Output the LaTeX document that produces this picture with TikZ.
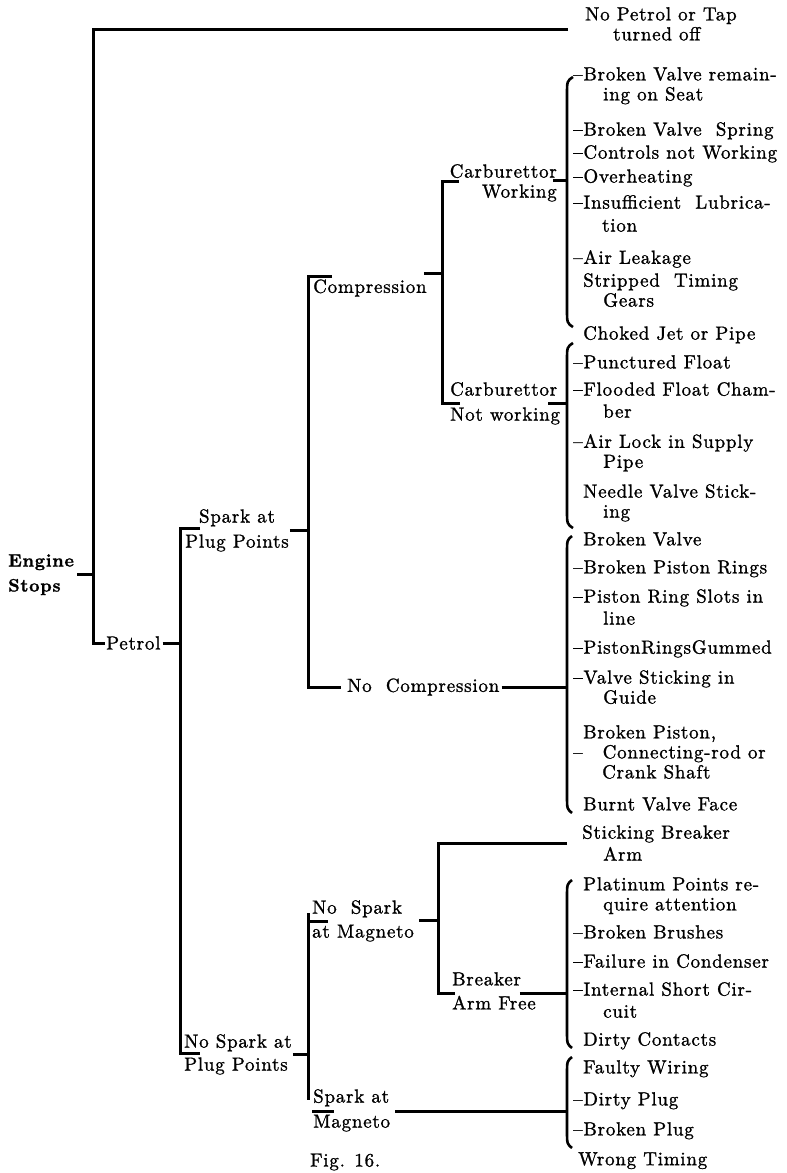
\documentclass[tikz,border=0pt]{standalone}
\usepackage{fontspec}
\setmainfont{lmroman10-regular.otf}[BoldFont=lmroman10-bold.otf, LetterSpace=4, FakeBold=1.2]
\tikzset{
  stem/.style={line width=3pt},
  curly/.style={line width=2.6pt},
  branch/.style={anchor=north west, inner sep=0pt, align=left},
  cause/.style={anchor=north west, inner sep=0pt, align=left},
}
\begin{document}
\begin{tikzpicture}[x=1pt, y=-1pt, font=\fontsize{19}{20}\selectfont]
  \useasboundingbox (0,0) rectangle (787,1173);
  % left side of the tree
  \node[branch, font=\fontsize{18}{20}\selectfont\bfseries] (engine) at (8,554) {Engine\\[5pt]Stops};
  \node[anchor=west, inner sep=0pt] (petrol) at (106,643) {Petrol};
  \node[branch] (tap) at (585,7) {No Petrol or Tap\\\hspace*{28pt}turned off};
  \node[branch, align=center] (spk) at (185,509) {Spark at\\[5pt]Plug Points};
  \node[branch] (nospk) at (184,1034) {No Spark at\\[3pt]Plug Points};
  \node[anchor=west, inner sep=0pt] (comp) at (313,288) {Compression};
  \node[branch, anchor=north east, align=right] (carbw) at (557,164) {Carburettor\\Working};
  \node[branch] (carbnw) at (450,382) {Carburettor\\[5pt]Not working};
  \node[anchor=west, inner sep=0pt] (nocomp) at (347,687) {No\ \ Compression};
  \node[branch] (nomag) at (312,900) {No\ \ Spark\\[4pt]at Magneto};
  \node[branch] (armfree) at (452,972) {Breaker\\[4pt]Arm Free};
  \node[branch] (sparkmag) at (313,1089) {Spark at\\[5pt]Magneto};
  \node[anchor=west, inner sep=0pt] (fig) at (310,1162) {Fig. 16.};

  % causes, right column
  \node[cause] (valve) at (573,67) {–Broken Valve remain-\\\hspace*{30pt}ing on Seat};
  \node[cause] (spring) at (573,122) {–Broken Valve\ \ Spring};
  \node[cause] (controls) at (573,145) {–Controls not Working};
  \node[cause] (heat) at (573,169) {–Overheating};
  \node[cause] (lube) at (573,195) {–Insufficient\ \ Lubrica-\\[3pt]\hspace*{29pt}tion};
  \node[cause] (leak) at (573,250) {–Air Leakage};
  \node[cause] (gears) at (583,273) {Stripped\ \ Timing\\\hspace*{20pt}Gears};
  \node[cause] (jet) at (583,326) {Choked Jet or Pipe};
  \node[cause] (float) at (573,355) {–Punctured Float};
  \node[cause] (flood) at (573,382) {–Flooded Float Cham-\\[2pt]\hspace*{30pt}ber};
  \node[cause] (airlock) at (573,434) {–Air Lock in Supply\\\hspace*{30pt}Pipe};
  \node[cause] (needle) at (583,484) {Needle Valve Stick-\\\hspace*{20pt}ing};
  \node[cause] (bvalve) at (583,532) {Broken Valve};
  \node[cause] (rings) at (573,560) {–Broken Piston Rings};
  \node[cause] (slots) at (573,589) {–Piston Ring Slots in\\[2pt]\hspace*{30pt}line};
  \node[cause] (gummed) at (573,640) {–PistonRingsGummed};
  \node[cause] (guide) at (573,670) {–Valve Sticking in\\\hspace*{30pt}Guide};
  \node[cause] (piston) at (573,725) {\hspace*{10pt}Broken Piston,\\–\hspace*{20pt}Connecting-rod or\\\hspace*{29pt}Crank Shaft};
  \node[cause] (burnt) at (583,797) {Burnt Valve Face};
  \node[cause] (sticking) at (582,825) {Sticking Breaker\\[2pt]\hspace*{21pt}Arm};
  \node[cause] (platinum) at (583,877) {Platinum Points re-\\\hspace*{20pt}quire attention};
  \node[cause] (brushes) at (573,925) {–Broken Brushes};
  \node[cause] (condenser) at (573,954) {–Failure in Condenser};
  \node[cause] (short) at (573,982) {–Internal Short Cir-\\[2pt]\hspace*{30pt}cuit};
  \node[cause] (contacts) at (583,1032) {Dirty Contacts};
  \node[cause] (wiring) at (583,1060) {Faulty Wiring};
  \node[cause] (dplug) at (573,1092) {–Dirty Plug};
  \node[cause] (bplug) at (573,1122) {–Broken Plug};
  \node[cause] (timing) at (578,1152) {Wrong Timing};

  % bar ends
  \coordinate (tapend) at (568,29);
  \coordinate (v0t) at (93,29);
  \coordinate (v0b) at (93,643);
  \coordinate (v1t) at (180,528);
  \coordinate (v1b) at (180,1053);
  \coordinate (s1) at (200,528);
  \coordinate (s2) at (200,1053);
  \coordinate (v2t) at (308,276);
  \coordinate (v2b) at (308,687);
  \coordinate (c1) at (332,276);
  \coordinate (v3c) at (442,273);
  \coordinate (v3t) at (442,181);
  \coordinate (v3b) at (442,403);
  \coordinate (w1) at (459,181);
  \coordinate (w2) at (460,403);
  \coordinate (v4t) at (308,913);
  \coordinate (v4b) at (308,1100);
  \coordinate (n1) at (308,921);
  \coordinate (n2) at (328,921);
  \coordinate (n3) at (312,1111);
  \coordinate (n4) at (334,1111);
  \coordinate (v5t) at (438,843);
  \coordinate (v5b) at (438,993);
  \coordinate (stk) at (567,843);
  \coordinate (f1) at (455,993);
  \coordinate (k1) at (567,180);
  \coordinate (k2) at (567,403);
  \coordinate (k3) at (567,686);
  \coordinate (k4) at (567,993);
  \coordinate (k5) at (567,1111);

  % bars and ticks
  \draw[stem] (tapend) -- (v0t) -- (v0b) -- ([xshift=-1pt]petrol.west);
  \draw[stem] ([xshift=3pt]engine.east) -- (engine.east -| v0t);
  \draw[stem] ([xshift=2pt]petrol.east) -- (petrol.east -| v1t);
  \draw[stem] (s1) -- (v1t) -- (v1b) -- (s2);
  \draw[stem] ([xshift=1pt]spk.east) -- (spk.east -| v2t);
  \draw[stem] ([xshift=1pt]nospk.east) -- (nospk.east -| v4t);
  \draw[stem] (c1) -- (v2t) -- (v2b) -- ([xshift=-6pt]nocomp.west);
  \draw[stem] (v3c -| comp.east) ++(-3,0) -- (v3c);
  \draw[stem] (w1) -- (v3t) -- (v3b) -- (w2);
  \draw[stem] (k1 -| carbw.east) ++(-4,0) -- (k1);
  \draw[stem] (k2 -| carbnw.east) ++(-12,0) -- (k2);
  \draw[stem] ([xshift=2pt]nocomp.east) -- (nocomp.east -| k3);
  \draw[stem] (v4t) -- (v4b);
  \draw[stem] (n1) -- (n2);
  \draw[stem] (n3) -- (n4);
  \draw[stem] ([xshift=5pt]nomag.east) -- (nomag.east -| v5t);
  \draw[stem] (stk) -- (v5t) -- (v5b) -- (f1);
  \draw[stem] (k4 -| armfree.east) ++(-16,0) -- (k4);
  \draw[stem] (k5 -| sparkmag.east) ++(5,0) -- (k5);

  % braces
  \draw[curly] (573,77) .. controls (567,81) .. (567,95) -- (567,309) .. controls (567,323) .. (573,327);
  \draw[curly] (573,343) .. controls (567,347) .. (567,361) -- (567,510) .. controls (567,524) .. (573,528);
  \draw[curly] (572,536) .. controls (567,540) .. (567,554) -- (567,795) .. controls (567,809) .. (572,813);
  \draw[curly] (572,880) .. controls (567,884) .. (567,898) -- (567,1030) .. controls (567,1044) .. (572,1048);
  \draw[curly] (572,1057) .. controls (567,1061) .. (567,1075) -- (567,1130) .. controls (567,1144) .. (572,1148);
\end{tikzpicture}
\end{document}
